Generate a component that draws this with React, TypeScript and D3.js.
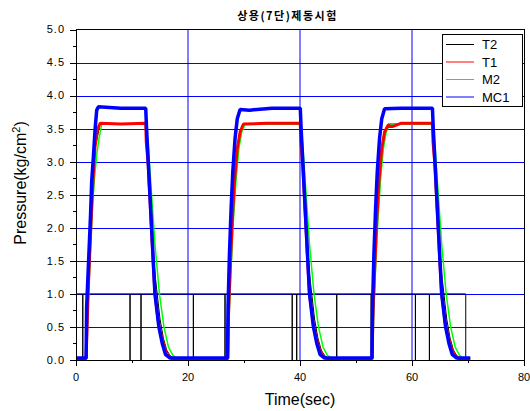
import { useEffect, useRef } from 'react';
import * as d3 from 'd3';

// MC1 (blue) - master cylinder pressure
const mc1Time = [
  0, 1.8, 1.9, 2.3, 2.6, 2.8, 3.1, 3.4, 3.7, 4.0, 8.0, 12.45, 12.6, 12.9, 13.2, 13.5, 13.8, 14.1, 14.8, 15.4, 16.0, 16.8,
  27.05, 27.15, 27.4, 27.7, 28.0, 28.4, 28.8, 29.3, 31.0, 35.0, 40.05, 40.2, 40.5, 40.8, 41.1, 41.4, 41.7, 42.4, 43.0, 43.6, 44.4,
  52.85, 52.95, 53.2, 53.5, 53.8, 54.2, 54.6, 55.1, 58.0, 63.65, 63.8, 64.1, 64.4, 64.7, 65.0, 65.3, 66.0, 66.6, 67.2, 68.0, 70.4,
];
const mc1Value = [
  0.03, 0.03, 0.8, 1.6, 2.2, 2.7, 3.07, 3.48, 3.78, 3.83, 3.81, 3.81, 3.5, 3.0, 2.5, 2.0, 1.5, 1.0, 0.5, 0.25, 0.08, 0.03,
  0.03, 0.8, 1.6, 2.3, 2.85, 3.35, 3.65, 3.79, 3.78, 3.81, 3.81, 3.5, 3.0, 2.5, 2.0, 1.5, 1.0, 0.5, 0.25, 0.08, 0.03,
  0.03, 0.8, 1.6, 2.3, 2.85, 3.35, 3.65, 3.8, 3.81, 3.81, 3.5, 3.0, 2.5, 2.0, 1.5, 1.0, 0.5, 0.25, 0.08, 0.03, 0.03,
];

// T1 (red)
const t1Time = [
  0, 1.8, 1.95, 2.2, 2.5, 2.8, 3.1, 3.4, 3.8, 4.3, 8.0, 12.45, 12.55, 12.9, 13.2, 13.5, 13.8, 14.1, 14.8, 15.4, 16.0, 16.6, 17.2,
  27.1, 27.2, 27.5, 27.9, 28.3, 28.8, 29.3, 29.9, 34.0, 40.05, 40.15, 40.5, 40.8, 41.1, 41.4, 41.7, 42.4, 43.0, 43.6, 44.2, 44.8,
  52.9, 53.0, 53.3, 53.7, 54.1, 54.6, 55.1, 55.7, 56.5, 58.0, 63.65, 63.75, 64.1, 64.4, 64.7, 65.0, 65.3, 66.0, 66.6, 67.2, 67.8, 68.4, 70.4,
];
const t1Value = [
  0.02, 0.02, 0.4, 1.1, 1.7, 2.3, 2.82, 3.23, 3.48, 3.58, 3.57, 3.58, 3.3, 2.95, 2.45, 1.95, 1.45, 1.0, 0.52, 0.3, 0.13, 0.06, 0.02,
  0.02, 0.6, 1.3, 2.1, 2.7, 3.2, 3.45, 3.57, 3.58, 3.58, 3.3, 2.95, 2.45, 1.95, 1.45, 1.0, 0.52, 0.3, 0.13, 0.06, 0.02,
  0.02, 0.6, 1.3, 2.1, 2.7, 3.2, 3.45, 3.55, 3.53, 3.58, 3.58, 3.3, 2.95, 2.45, 1.95, 1.45, 1.0, 0.52, 0.3, 0.13, 0.06, 0.02, 0.02,
];

// M2 (green)
const m2Time = [
  0, 1.95, 2.05, 2.3, 2.7, 3.0, 3.3, 3.7, 4.1, 4.6, 12.5, 12.7, 12.9, 13.5, 14.1, 14.9, 15.7, 16.5, 17.3, 18.2,
  27.2, 27.35, 27.7, 28.1, 28.6, 29.1, 29.6, 30.2, 40.1, 40.3, 40.5, 41.1, 41.7, 42.5, 43.3, 44.1, 44.9, 45.8,
  53.0, 53.15, 53.5, 53.9, 54.4, 54.9, 55.4, 56.0, 63.7, 63.9, 64.1, 64.7, 65.3, 66.1, 66.9, 67.7, 68.5, 69.4, 70.4,
];
const m2Value = [
  0.02, 0.02, 0.55, 1.1, 1.9, 2.4, 2.75, 3.1, 3.35, 3.57, 3.57, 3.4, 3.25, 2.5, 1.75, 1.0, 0.5, 0.2, 0.07, 0.02,
  0.02, 0.7, 1.4, 2.1, 2.75, 3.2, 3.45, 3.57, 3.57, 3.4, 3.25, 2.5, 1.75, 1.0, 0.5, 0.2, 0.07, 0.02,
  0.02, 0.7, 1.4, 2.1, 2.75, 3.2, 3.45, 3.57, 3.57, 3.4, 3.25, 2.5, 1.75, 1.0, 0.5, 0.2, 0.07, 0.02, 0.02,
];

// T2 (black) pressure, mostly hidden under T1
const t2Time = [
  0, 1.75, 1.85, 2.2, 2.8, 3.4, 4.3, 12.45, 12.6, 13.2, 13.8, 14.1, 15.0, 15.6, 16.2, 16.9, 17.5,
  27.1, 27.2, 27.9, 28.8, 29.9, 40.05, 40.2, 40.8, 41.4, 41.7, 42.6, 43.2, 43.8, 44.5, 45.1,
  52.9, 53.0, 53.7, 54.6, 55.7, 63.65, 63.8, 64.4, 65.0, 65.3, 66.2, 66.8, 67.4, 68.1, 68.7,
];
const t2Value = [
  0.02, 0.02, 0.3, 1.1, 2.3, 3.2, 3.57, 3.57, 3.3, 2.45, 1.6, 1.3, 0.62, 0.33, 0.15, 0.05, 0.02,
  0.02, 0.6, 2.1, 3.2, 3.57, 3.57, 3.3, 2.45, 1.6, 1.3, 0.62, 0.33, 0.15, 0.05, 0.02,
  0.02, 0.6, 2.1, 3.2, 3.57, 3.57, 3.3, 2.45, 1.6, 1.3, 0.62, 0.33, 0.15, 0.05, 0.02,
];

// T2 on/off signal: level 1 with short drops to 0
const signalDips = [1.2, 9.64, 11.6, 20.95, 26.6, 38.6, 39.4, 46.55, 52.7, 60.6, 63.1];
const signalEnd = 69.6;

const xTicks = [0, 20, 40, 60, 80];
const xMinorTicks = [10, 30, 50, 70];
const yTicks = [0, 0.5, 1, 1.5, 2, 2.5, 3, 3.5, 4, 4.5, 5];
const legendNames = ['T2', 'T1', 'M2', 'MC1'];

const colors = { T2: '#000000', T1: '#ff0000', M2: '#00ff00', MC1: '#0000ff' };

const App = () => {
  const svgRef = useRef<SVGSVGElement>(null);

  useEffect(() => {
    const svg = d3.select(svgRef.current);
    svg.selectAll('*').remove();

    const width = 530;
    const height = 411;
    const left = 76;
    const right = 524;
    const top = 29.5;
    const bottom = 360;
    const font = '"Liberation Sans", Arial, sans-serif';

    svg.attr('width', width).attr('height', height);

    const x = d3.scaleLinear().domain([0, 80]).range([left, right]);
    const y = d3.scaleLinear().domain([0, 5]).range([bottom, top]);

    // grid
    svg
      .append('g')
      .selectAll('line')
      .data(yTicks.filter(v => v > 0 && v < 5))
      .enter()
      .append('line')
      .attr('x1', left)
      .attr('x2', right)
      .attr('y1', d => Math.round(y(d)) + 0.5)
      .attr('y2', d => Math.round(y(d)) + 0.5)
      .attr('stroke', '#0000ff')
      .attr('stroke-width', 1);

    svg
      .append('g')
      .selectAll('line')
      .data(xTicks.filter(v => v > 0 && v < 80))
      .enter()
      .append('line')
      .attr('x1', d => Math.round(x(d)))
      .attr('x2', d => Math.round(x(d)))
      .attr('y1', top)
      .attr('y2', bottom)
      .attr('stroke', '#0000ff')
      .attr('stroke-width', 1);

    const plot = svg.append('g');

    // on/off signal
    const sig: [number, number][] = [[0, 1]];
    signalDips.forEach(d => {
      sig.push([d, 1], [d, 0], [d + 0.02, 0], [d + 0.02, 1]);
    });
    sig.push([signalEnd, 1], [signalEnd, 0]);
    plot
      .append('path')
      .attr('d', d3.line<[number, number]>().x(d => x(d[0])).y(d => y(d[1]))(sig))
      .attr('fill', 'none')
      .attr('stroke', '#000')
      .attr('stroke-width', 1);

    // drawing order: T2, M2, T1, MC1 (blue on top)
    const series = [
      { name: 'T2', time: t2Time, value: t2Value, w: 1 },
      { name: 'M2', time: m2Time, value: m2Value, w: 1.5 },
      { name: 'T1', time: t1Time, value: t1Value, w: 3 },
      { name: 'MC1', time: mc1Time, value: mc1Value, w: 3.5 },
    ];

    series.forEach(s => {
      const gen = d3
        .line<number>()
        .x(d => x(s.time[d]))
        .y(d => y(s.value[d]))
        .curve(d3.curveLinear);
      plot
        .append('path')
        .attr('d', gen(d3.range(s.time.length)))
        .attr('fill', 'none')
        .attr('stroke', colors[s.name as keyof typeof colors])
        .attr('stroke-width', s.w)
        .attr('stroke-linejoin', 'bevel');
    });

    // frame
    svg
      .append('rect')
      .attr('x', left + 0.5)
      .attr('y', top)
      .attr('width', right - left)
      .attr('height', bottom - top + 0.5)
      .attr('fill', 'none')
      .attr('stroke', '#000')
      .attr('stroke-width', 1);

    // y ticks
    const yMinor = d3.range(0.25, 5, 0.5);
    svg
      .append('g')
      .selectAll('line')
      .data(yTicks)
      .enter()
      .append('line')
      .attr('x1', left - 6)
      .attr('x2', left)
      .attr('y1', d => Math.round(y(d)) + 0.5)
      .attr('y2', d => Math.round(y(d)) + 0.5)
      .attr('stroke', '#000');
    svg
      .append('g')
      .selectAll('line')
      .data(yMinor)
      .enter()
      .append('line')
      .attr('x1', left - 3)
      .attr('x2', left)
      .attr('y1', d => Math.round(y(d)) + 0.5)
      .attr('y2', d => Math.round(y(d)) + 0.5)
      .attr('stroke', '#000');
    svg
      .append('g')
      .selectAll('text')
      .data(yTicks)
      .enter()
      .append('text')
      .attr('x', 65)
      .attr('y', d => y(d))
      .attr('dy', '0.35em')
      .attr('text-anchor', 'end')
      .style('font-family', font)
      .style('font-size', '11px')
      .style('letter-spacing', '1px')
      .text(d => d.toFixed(1));

    // x ticks
    svg
      .append('g')
      .selectAll('line')
      .data(xTicks)
      .enter()
      .append('line')
      .attr('x1', d => Math.round(x(d)) + 0.5)
      .attr('x2', d => Math.round(x(d)) + 0.5)
      .attr('y1', bottom)
      .attr('y2', bottom + 6)
      .attr('stroke', '#000');
    svg
      .append('g')
      .selectAll('line')
      .data(xMinorTicks)
      .enter()
      .append('line')
      .attr('x1', d => Math.round(x(d)) + 0.5)
      .attr('x2', d => Math.round(x(d)) + 0.5)
      .attr('y1', bottom)
      .attr('y2', bottom + 3)
      .attr('stroke', '#000');
    svg
      .append('g')
      .selectAll('text')
      .data(xTicks)
      .enter()
      .append('text')
      .attr('x', d => x(d))
      .attr('y', 381)
      .attr('text-anchor', 'middle')
      .style('font-family', font)
      .style('font-size', '11px')
      .text(d => String(d));

    // axis titles
    svg
      .append('text')
      .attr('x', 300)
      .attr('y', 405)
      .attr('text-anchor', 'middle')
      .style('font-family', font)
      .style('font-size', '16px')
      .text('Time(sec)');

    const yTitle = svg
      .append('text')
      .attr('transform', 'translate(26,183) rotate(-90)')
      .attr('text-anchor', 'middle')
      .style('font-family', font)
      .style('font-size', '16px');
    yTitle.append('tspan').text('Pressure(kg/cm');
    yTitle.append('tspan').attr('dy', -6).style('font-size', '11px').text('2');
    yTitle.append('tspan').attr('dy', 6).text(')');

    // title
    svg
      .append('text')
      .attr('x', 287.5)
      .attr('y', 20)
      .attr('text-anchor', 'middle')
      .style('font-family', '"Noto Sans CJK KR", sans-serif')
      .style('font-size', '11px')
      .style('font-weight', 'bold')
      .style('letter-spacing', '1.5px')
      .text('상용(7단)제동시험');

    // legend
    const lg = svg.append('g').attr('transform', 'translate(442,34)');
    lg.append('rect')
      .attr('x', 0.5)
      .attr('y', 0.5)
      .attr('width', 80)
      .attr('height', 72)
      .attr('fill', '#fff')
      .attr('stroke', '#000');
    const items = lg
      .selectAll('.item')
      .data(legendNames)
      .enter()
      .append('g')
      .attr('transform', (d, i) => `translate(0, ${10.5 + i * 17.5})`);
    items
      .append('line')
      .attr('x1', 4)
      .attr('x2', 32)
      .attr('stroke', d => colors[d as keyof typeof colors])
      .attr('stroke-width', 1);
    items
      .append('text')
      .attr('x', 40)
      .attr('dy', '0.35em')
      .style('font-family', font)
      .style('font-size', '13px')
      .text(d => d);
  }, []);

  return (
    <div style={{ position: 'absolute', left: 0, top: 0 }}>
      <svg ref={svgRef}></svg>
    </div>
  );
};

export default App;
